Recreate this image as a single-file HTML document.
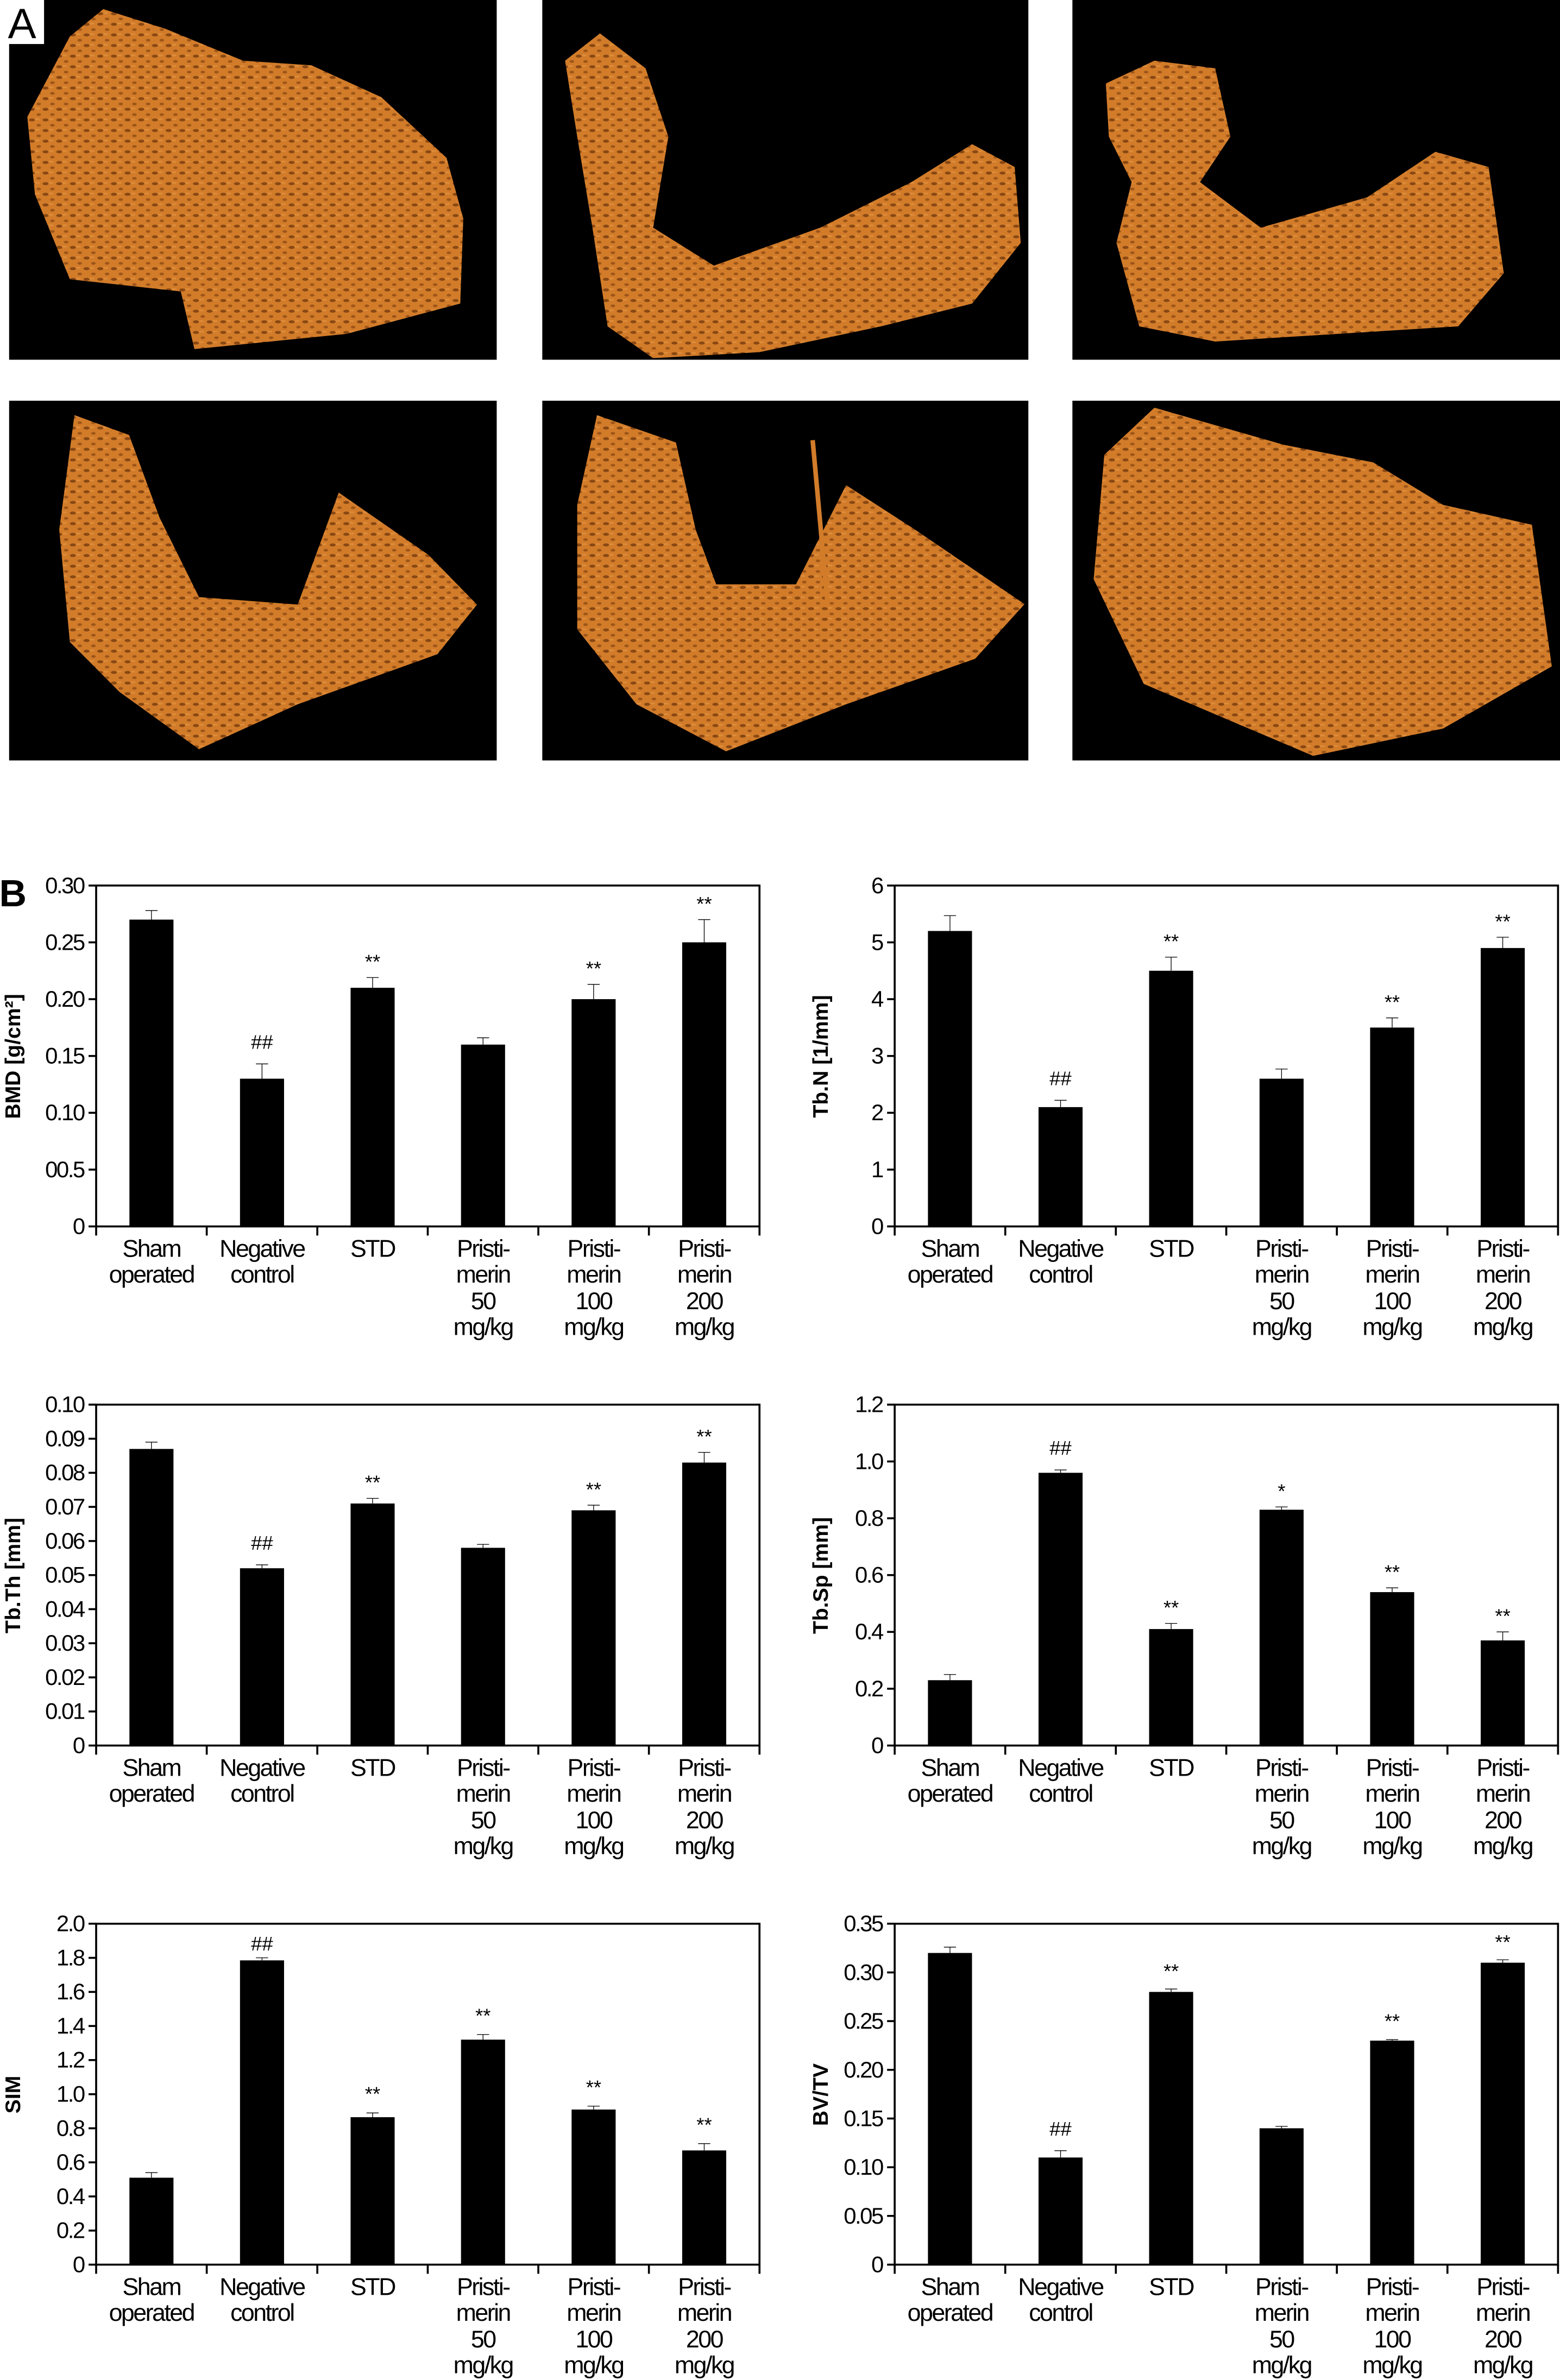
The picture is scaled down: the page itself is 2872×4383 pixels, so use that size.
<!DOCTYPE html>
<html><head><meta charset="utf-8">
<style>
html,body{margin:0;padding:0;background:#fff;}
svg{display:block;}
text{font-family:"Liberation Sans Narrow","Liberation Sans",sans-serif;fill:#000;}
.tk{font-size:15px;text-anchor:end;letter-spacing:-0.9px;}
.cl{font-size:16px;text-anchor:middle;letter-spacing:-0.9px;}
.yt{font-family:"Liberation Sans",sans-serif;font-weight:bold;font-size:14px;text-anchor:middle;}
.an{font-family:"Liberation Sans",sans-serif;font-size:13px;text-anchor:middle;}
.ln{stroke:#000;stroke-width:1.3;fill:none;}
.eb{stroke:#000;stroke-width:1.3;vector-effect:non-scaling-stroke;}
</style></head><body>
<svg width="2872" height="4383" viewBox="0 0 1027 1568" preserveAspectRatio="none" xmlns="http://www.w3.org/2000/svg">
<defs>
<pattern id="tex" width="9" height="7" patternUnits="userSpaceOnUse">
<rect width="9" height="7" fill="#d27c2a"/>
<ellipse cx="3" cy="2" rx="2" ry="1" fill="#6a3208" opacity="0.7"/>
<ellipse cx="7.5" cy="5.5" rx="1.5" ry="0.9" fill="#7a3a0c" opacity="0.6"/>
<rect x="5" y="1" width="3" height="1" fill="#e89a48" opacity="0.6"/>
</pattern>
</defs>
<rect width="1027" height="1568" fill="#fff"/>
<rect x="6" y="0" width="321" height="237" fill="#000"/>
<rect x="357" y="0" width="320" height="237" fill="#000"/>
<rect x="706" y="0" width="321" height="237" fill="#000"/>
<rect x="6" y="264" width="321" height="237" fill="#000"/>
<rect x="357" y="264" width="320" height="237" fill="#000"/>
<rect x="706" y="264" width="321" height="237" fill="#000"/>
<polygon fill="url(#tex)" points="18,77 46,24 68,6 109,19 160,40 205,43 251,64 294,104 305,144 303,200 228,220 128,230 119,192 46,184 23,128"/>
<polygon fill="url(#tex)" points="372,40 395,22 425,45 440,90 430,150 470,175 540,150 600,120 640,95 668,110 672,160 640,200 580,215 500,232 430,236 400,215 390,150 380,90"/>
<polygon fill="url(#tex)" points="728,55 760,40 800,45 810,90 790,120 830,150 900,130 945,100 980,110 990,180 960,215 880,220 800,225 750,215 735,160 745,120 730,90"/>
<polygon fill="url(#tex)" points="49,273.5 85,286.6 105,340.9 131,393.4 196,398.3 223,324.5 282,365.5 314,398.3 288,431 196,464 131,493.6 78.6,455.8 46,423 39,349"/>
<polygon fill="url(#tex)" points="393,273.5 445,291.5 458,349 471.5,385 524,385 557,319.6 602.5,349 674.5,398 642,434 557,464 478,495 419,464 380,414.6 380,332.6"/>
<line x1="535" y1="290" x2="545" y2="400" stroke="#d27c2a" stroke-width="3"/>
<polygon fill="url(#tex)" points="760,268.6 845,293 904,304.6 950,332.6 1008.5,345.7 1021.6,439 950,480 864.5,498 753,450.6 720,381.6 727,299.6"/>
<rect x="0" y="0" width="29" height="29" fill="#fff"/>
<text x="14.5" y="25" style="font-size:28px;text-anchor:middle">A</text>
<text x="8.5" y="597" style="font-family:'Liberation Sans',sans-serif;font-weight:bold;font-size:25px;text-anchor:middle">B</text>

<g transform="translate(63.3,808)">
<g transform="scale(1,-748.67)">
<rect x="21.9" y="0" width="29" height="0.27"/><rect x="94.7" y="0" width="29" height="0.13"/><rect x="167.5" y="0" width="29" height="0.21"/><rect x="240.2" y="0" width="29" height="0.16"/><rect x="313" y="0" width="29" height="0.20"/><rect x="385.8" y="0" width="29" height="0.25"/>
<line class="eb" x1="36.4" y1="0.27" x2="36.4" y2="0.278"/><line class="eb" x1="32.4" y1="0.278" x2="40.4" y2="0.278"/>
<line class="eb" x1="109.2" y1="0.13" x2="109.2" y2="0.143"/><line class="eb" x1="105.2" y1="0.143" x2="113.2" y2="0.143"/>
<line class="eb" x1="182" y1="0.21" x2="182" y2="0.219"/><line class="eb" x1="178" y1="0.219" x2="186" y2="0.219"/>
<line class="eb" x1="254.7" y1="0.16" x2="254.7" y2="0.166"/><line class="eb" x1="250.7" y1="0.166" x2="258.7" y2="0.166"/>
<line class="eb" x1="327.5" y1="0.20" x2="327.5" y2="0.213"/><line class="eb" x1="323.5" y1="0.213" x2="331.5" y2="0.213"/>
<line class="eb" x1="400.3" y1="0.25" x2="400.3" y2="0.27"/><line class="eb" x1="396.3" y1="0.27" x2="404.3" y2="0.27"/>
</g>
<rect class="ln" x="0" y="-224.6" width="436.7" height="224.6"/>
<path class="ln" d="M0,0v6M72.8,0v6M145.6,0v6M218.3,0v6M291.1,0v6M363.9,0v6M436.7,0v6M-5,0h5M-5,-37.43h5M-5,-74.87h5M-5,-112.3h5M-5,-149.73h5M-5,-187.17h5M-5,-224.6h5"/>
<text class="tk" x="-8" y="5">0</text><text class="tk" x="-8" y="-32.4">00.5</text><text class="tk" x="-8" y="-69.9">0.10</text><text class="tk" x="-8" y="-107.3">0.15</text><text class="tk" x="-8" y="-144.7">0.20</text><text class="tk" x="-8" y="-182.2">0.25</text><text class="tk" x="-8" y="-219.6">0.30</text>
<text class="an" x="109.2" y="-117">##</text><text class="an" x="182" y="-170">**</text><text class="an" x="327.5" y="-165.5">**</text><text class="an" x="400.3" y="-208">**</text>
<text class="yt" transform="translate(-50,-112) rotate(-90)">BMD [g/cm²]</text>
<text class="cl" x="36.4" y="20">Sham</text><text class="cl" x="36.4" y="37">operated</text>
<text class="cl" x="109.2" y="20">Negative</text><text class="cl" x="109.2" y="37">control</text>
<text class="cl" x="182" y="20">STD</text>
<text class="cl" x="254.7" y="20">Pristi-</text><text class="cl" x="254.7" y="37">merin</text><text class="cl" x="254.7" y="54.5">50</text><text class="cl" x="254.7" y="71.5">mg/kg</text>
<text class="cl" x="327.5" y="20">Pristi-</text><text class="cl" x="327.5" y="37">merin</text><text class="cl" x="327.5" y="54.5">100</text><text class="cl" x="327.5" y="71.5">mg/kg</text>
<text class="cl" x="400.3" y="20">Pristi-</text><text class="cl" x="400.3" y="37">merin</text><text class="cl" x="400.3" y="54.5">200</text><text class="cl" x="400.3" y="71.5">mg/kg</text>
</g>

<g transform="translate(589,808)">
<g transform="scale(1,-37.433)">
<rect x="21.9" y="0" width="29" height="5.2"/><rect x="94.7" y="0" width="29" height="2.1"/><rect x="167.5" y="0" width="29" height="4.5"/><rect x="240.2" y="0" width="29" height="2.6"/><rect x="313" y="0" width="29" height="3.5"/><rect x="385.8" y="0" width="29" height="4.9"/>
<line class="eb" x1="36.4" y1="5.2" x2="36.4" y2="5.47"/><line class="eb" x1="32.4" y1="5.47" x2="40.4" y2="5.47"/>
<line class="eb" x1="109.2" y1="2.1" x2="109.2" y2="2.22"/><line class="eb" x1="105.2" y1="2.22" x2="113.2" y2="2.22"/>
<line class="eb" x1="182" y1="4.5" x2="182" y2="4.74"/><line class="eb" x1="178" y1="4.74" x2="186" y2="4.74"/>
<line class="eb" x1="254.7" y1="2.6" x2="254.7" y2="2.77"/><line class="eb" x1="250.7" y1="2.77" x2="258.7" y2="2.77"/>
<line class="eb" x1="327.5" y1="3.5" x2="327.5" y2="3.67"/><line class="eb" x1="323.5" y1="3.67" x2="331.5" y2="3.67"/>
<line class="eb" x1="400.3" y1="4.9" x2="400.3" y2="5.09"/><line class="eb" x1="396.3" y1="5.09" x2="404.3" y2="5.09"/>
</g>
<rect class="ln" x="0" y="-224.6" width="436.7" height="224.6"/>
<path class="ln" d="M0,0v6M72.8,0v6M145.6,0v6M218.3,0v6M291.1,0v6M363.9,0v6M436.7,0v6M-5,0h5M-5,-37.43h5M-5,-74.87h5M-5,-112.3h5M-5,-149.73h5M-5,-187.17h5M-5,-224.6h5"/>
<text class="tk" x="-8" y="5">0</text><text class="tk" x="-8" y="-32.4">1</text><text class="tk" x="-8" y="-69.9">2</text><text class="tk" x="-8" y="-107.3">3</text><text class="tk" x="-8" y="-144.7">4</text><text class="tk" x="-8" y="-182.2">5</text><text class="tk" x="-8" y="-219.6">6</text>
<text class="an" x="109.2" y="-93">##</text><text class="an" x="182" y="-183.4">**</text><text class="an" x="327.5" y="-143.4">**</text><text class="an" x="400.3" y="-196.5">**</text>
<text class="yt" transform="translate(-44,-112) rotate(-90)">Tb.N [1/mm]</text>
<text class="cl" x="36.4" y="20">Sham</text><text class="cl" x="36.4" y="37">operated</text>
<text class="cl" x="109.2" y="20">Negative</text><text class="cl" x="109.2" y="37">control</text>
<text class="cl" x="182" y="20">STD</text>
<text class="cl" x="254.7" y="20">Pristi-</text><text class="cl" x="254.7" y="37">merin</text><text class="cl" x="254.7" y="54.5">50</text><text class="cl" x="254.7" y="71.5">mg/kg</text>
<text class="cl" x="327.5" y="20">Pristi-</text><text class="cl" x="327.5" y="37">merin</text><text class="cl" x="327.5" y="54.5">100</text><text class="cl" x="327.5" y="71.5">mg/kg</text>
<text class="cl" x="400.3" y="20">Pristi-</text><text class="cl" x="400.3" y="37">merin</text><text class="cl" x="400.3" y="54.5">200</text><text class="cl" x="400.3" y="71.5">mg/kg</text>
</g>

<g transform="translate(63.3,1150)">
<g transform="scale(1,-2246)">
<rect x="21.9" y="0" width="29" height="0.087"/><rect x="94.7" y="0" width="29" height="0.052"/><rect x="167.5" y="0" width="29" height="0.071"/><rect x="240.2" y="0" width="29" height="0.058"/><rect x="313" y="0" width="29" height="0.069"/><rect x="385.8" y="0" width="29" height="0.083"/>
<line class="eb" x1="36.4" y1="0.087" x2="36.4" y2="0.089"/><line class="eb" x1="32.4" y1="0.089" x2="40.4" y2="0.089"/>
<line class="eb" x1="109.2" y1="0.052" x2="109.2" y2="0.053"/><line class="eb" x1="105.2" y1="0.053" x2="113.2" y2="0.053"/>
<line class="eb" x1="182" y1="0.071" x2="182" y2="0.0725"/><line class="eb" x1="178" y1="0.0725" x2="186" y2="0.0725"/>
<line class="eb" x1="254.7" y1="0.058" x2="254.7" y2="0.059"/><line class="eb" x1="250.7" y1="0.059" x2="258.7" y2="0.059"/>
<line class="eb" x1="327.5" y1="0.069" x2="327.5" y2="0.0705"/><line class="eb" x1="323.5" y1="0.0705" x2="331.5" y2="0.0705"/>
<line class="eb" x1="400.3" y1="0.083" x2="400.3" y2="0.086"/><line class="eb" x1="396.3" y1="0.086" x2="404.3" y2="0.086"/>
</g>
<rect class="ln" x="0" y="-224.6" width="436.7" height="224.6"/>
<path class="ln" d="M0,0v6M72.8,0v6M145.6,0v6M218.3,0v6M291.1,0v6M363.9,0v6M436.7,0v6M-5,0h5M-5,-22.46h5M-5,-44.92h5M-5,-67.38h5M-5,-89.84h5M-5,-112.3h5M-5,-134.76h5M-5,-157.22h5M-5,-179.68h5M-5,-202.14h5M-5,-224.6h5"/>
<text class="tk" x="-8" y="5">0</text><text class="tk" x="-8" y="-17.5">0.01</text><text class="tk" x="-8" y="-39.9">0.02</text><text class="tk" x="-8" y="-62.4">0.03</text><text class="tk" x="-8" y="-84.8">0.04</text><text class="tk" x="-8" y="-107.3">0.05</text><text class="tk" x="-8" y="-129.8">0.06</text><text class="tk" x="-8" y="-152.2">0.07</text><text class="tk" x="-8" y="-174.7">0.08</text><text class="tk" x="-8" y="-197.1">0.09</text><text class="tk" x="-8" y="-219.6">0.10</text>
<text class="an" x="109.2" y="-129">##</text><text class="an" x="182" y="-168.8">**</text><text class="an" x="327.5" y="-164.3">**</text><text class="an" x="400.3" y="-199.2">**</text>
<text class="yt" transform="translate(-50,-112) rotate(-90)">Tb.Th [mm]</text>
<text class="cl" x="36.4" y="20">Sham</text><text class="cl" x="36.4" y="37">operated</text>
<text class="cl" x="109.2" y="20">Negative</text><text class="cl" x="109.2" y="37">control</text>
<text class="cl" x="182" y="20">STD</text>
<text class="cl" x="254.7" y="20">Pristi-</text><text class="cl" x="254.7" y="37">merin</text><text class="cl" x="254.7" y="54.5">50</text><text class="cl" x="254.7" y="71.5">mg/kg</text>
<text class="cl" x="327.5" y="20">Pristi-</text><text class="cl" x="327.5" y="37">merin</text><text class="cl" x="327.5" y="54.5">100</text><text class="cl" x="327.5" y="71.5">mg/kg</text>
<text class="cl" x="400.3" y="20">Pristi-</text><text class="cl" x="400.3" y="37">merin</text><text class="cl" x="400.3" y="54.5">200</text><text class="cl" x="400.3" y="71.5">mg/kg</text>
</g>

<g transform="translate(589,1150)">
<g transform="scale(1,-187.17)">
<rect x="21.9" y="0" width="29" height="0.23"/><rect x="94.7" y="0" width="29" height="0.96"/><rect x="167.5" y="0" width="29" height="0.41"/><rect x="240.2" y="0" width="29" height="0.83"/><rect x="313" y="0" width="29" height="0.54"/><rect x="385.8" y="0" width="29" height="0.37"/>
<line class="eb" x1="36.4" y1="0.23" x2="36.4" y2="0.25"/><line class="eb" x1="32.4" y1="0.25" x2="40.4" y2="0.25"/>
<line class="eb" x1="109.2" y1="0.96" x2="109.2" y2="0.97"/><line class="eb" x1="105.2" y1="0.97" x2="113.2" y2="0.97"/>
<line class="eb" x1="182" y1="0.41" x2="182" y2="0.43"/><line class="eb" x1="178" y1="0.43" x2="186" y2="0.43"/>
<line class="eb" x1="254.7" y1="0.83" x2="254.7" y2="0.84"/><line class="eb" x1="250.7" y1="0.84" x2="258.7" y2="0.84"/>
<line class="eb" x1="327.5" y1="0.54" x2="327.5" y2="0.555"/><line class="eb" x1="323.5" y1="0.555" x2="331.5" y2="0.555"/>
<line class="eb" x1="400.3" y1="0.37" x2="400.3" y2="0.40"/><line class="eb" x1="396.3" y1="0.40" x2="404.3" y2="0.40"/>
</g>
<rect class="ln" x="0" y="-224.6" width="436.7" height="224.6"/>
<path class="ln" d="M0,0v6M72.8,0v6M145.6,0v6M218.3,0v6M291.1,0v6M363.9,0v6M436.7,0v6M-5,0h5M-5,-37.43h5M-5,-74.87h5M-5,-112.3h5M-5,-149.73h5M-5,-187.17h5M-5,-224.6h5"/>
<text class="tk" x="-8" y="5">0</text><text class="tk" x="-8" y="-32.4">0.2</text><text class="tk" x="-8" y="-69.9">0.4</text><text class="tk" x="-8" y="-107.3">0.6</text><text class="tk" x="-8" y="-144.7">0.8</text><text class="tk" x="-8" y="-182.2">1.0</text><text class="tk" x="-8" y="-219.6">1.2</text>
<text class="an" x="109.2" y="-191.6">##</text><text class="an" x="182" y="-86.5">**</text><text class="an" x="254.7" y="-163.2">*</text><text class="an" x="327.5" y="-109.9">**</text><text class="an" x="400.3" y="-80.9">**</text>
<text class="yt" transform="translate(-44,-112) rotate(-90)">Tb.Sp [mm]</text>
<text class="cl" x="36.4" y="20">Sham</text><text class="cl" x="36.4" y="37">operated</text>
<text class="cl" x="109.2" y="20">Negative</text><text class="cl" x="109.2" y="37">control</text>
<text class="cl" x="182" y="20">STD</text>
<text class="cl" x="254.7" y="20">Pristi-</text><text class="cl" x="254.7" y="37">merin</text><text class="cl" x="254.7" y="54.5">50</text><text class="cl" x="254.7" y="71.5">mg/kg</text>
<text class="cl" x="327.5" y="20">Pristi-</text><text class="cl" x="327.5" y="37">merin</text><text class="cl" x="327.5" y="54.5">100</text><text class="cl" x="327.5" y="71.5">mg/kg</text>
<text class="cl" x="400.3" y="20">Pristi-</text><text class="cl" x="400.3" y="37">merin</text><text class="cl" x="400.3" y="54.5">200</text><text class="cl" x="400.3" y="71.5">mg/kg</text>
</g>

<g transform="translate(63.3,1492)">
<g transform="scale(1,-112.3)">
<rect x="21.9" y="0" width="29" height="0.51"/><rect x="94.7" y="0" width="29" height="1.785"/><rect x="167.5" y="0" width="29" height="0.865"/><rect x="240.2" y="0" width="29" height="1.32"/><rect x="313" y="0" width="29" height="0.91"/><rect x="385.8" y="0" width="29" height="0.67"/>
<line class="eb" x1="36.4" y1="0.51" x2="36.4" y2="0.54"/><line class="eb" x1="32.4" y1="0.54" x2="40.4" y2="0.54"/>
<line class="eb" x1="109.2" y1="1.785" x2="109.2" y2="1.80"/><line class="eb" x1="105.2" y1="1.80" x2="113.2" y2="1.80"/>
<line class="eb" x1="182" y1="0.865" x2="182" y2="0.89"/><line class="eb" x1="178" y1="0.89" x2="186" y2="0.89"/>
<line class="eb" x1="254.7" y1="1.32" x2="254.7" y2="1.35"/><line class="eb" x1="250.7" y1="1.35" x2="258.7" y2="1.35"/>
<line class="eb" x1="327.5" y1="0.91" x2="327.5" y2="0.93"/><line class="eb" x1="323.5" y1="0.93" x2="331.5" y2="0.93"/>
<line class="eb" x1="400.3" y1="0.67" x2="400.3" y2="0.71"/><line class="eb" x1="396.3" y1="0.71" x2="404.3" y2="0.71"/>
</g>
<rect class="ln" x="0" y="-224.6" width="436.7" height="224.6"/>
<path class="ln" d="M0,0v6M72.8,0v6M145.6,0v6M218.3,0v6M291.1,0v6M363.9,0v6M436.7,0v6M-5,0h5M-5,-22.46h5M-5,-44.92h5M-5,-67.38h5M-5,-89.84h5M-5,-112.3h5M-5,-134.76h5M-5,-157.22h5M-5,-179.68h5M-5,-202.14h5M-5,-224.6h5"/>
<text class="tk" x="-8" y="5">0</text><text class="tk" x="-8" y="-17.5">0.2</text><text class="tk" x="-8" y="-39.9">0.4</text><text class="tk" x="-8" y="-62.4">0.6</text><text class="tk" x="-8" y="-84.8">0.8</text><text class="tk" x="-8" y="-107.3">1.0</text><text class="tk" x="-8" y="-129.8">1.2</text><text class="tk" x="-8" y="-152.2">1.4</text><text class="tk" x="-8" y="-174.7">1.6</text><text class="tk" x="-8" y="-197.1">1.8</text><text class="tk" x="-8" y="-219.6">2.0</text>
<text class="an" x="109.2" y="-207">##</text><text class="an" x="182" y="-108">**</text><text class="an" x="254.7" y="-159.6">**</text><text class="an" x="327.5" y="-112.4">**</text><text class="an" x="400.3" y="-87.7">**</text>
<text class="yt" transform="translate(-50,-112) rotate(-90)">SIM</text>
<text class="cl" x="36.4" y="20">Sham</text><text class="cl" x="36.4" y="37">operated</text>
<text class="cl" x="109.2" y="20">Negative</text><text class="cl" x="109.2" y="37">control</text>
<text class="cl" x="182" y="20">STD</text>
<text class="cl" x="254.7" y="20">Pristi-</text><text class="cl" x="254.7" y="37">merin</text><text class="cl" x="254.7" y="54.5">50</text><text class="cl" x="254.7" y="71.5">mg/kg</text>
<text class="cl" x="327.5" y="20">Pristi-</text><text class="cl" x="327.5" y="37">merin</text><text class="cl" x="327.5" y="54.5">100</text><text class="cl" x="327.5" y="71.5">mg/kg</text>
<text class="cl" x="400.3" y="20">Pristi-</text><text class="cl" x="400.3" y="37">merin</text><text class="cl" x="400.3" y="54.5">200</text><text class="cl" x="400.3" y="71.5">mg/kg</text>
</g>

<g transform="translate(589,1492)">
<g transform="scale(1,-641.7)">
<rect x="21.9" y="0" width="29" height="0.32"/><rect x="94.7" y="0" width="29" height="0.11"/><rect x="167.5" y="0" width="29" height="0.28"/><rect x="240.2" y="0" width="29" height="0.14"/><rect x="313" y="0" width="29" height="0.23"/><rect x="385.8" y="0" width="29" height="0.31"/>
<line class="eb" x1="36.4" y1="0.32" x2="36.4" y2="0.326"/><line class="eb" x1="32.4" y1="0.326" x2="40.4" y2="0.326"/>
<line class="eb" x1="109.2" y1="0.11" x2="109.2" y2="0.117"/><line class="eb" x1="105.2" y1="0.117" x2="113.2" y2="0.117"/>
<line class="eb" x1="182" y1="0.28" x2="182" y2="0.283"/><line class="eb" x1="178" y1="0.283" x2="186" y2="0.283"/>
<line class="eb" x1="254.7" y1="0.14" x2="254.7" y2="0.142"/><line class="eb" x1="250.7" y1="0.142" x2="258.7" y2="0.142"/>
<line class="eb" x1="327.5" y1="0.23" x2="327.5" y2="0.231"/><line class="eb" x1="323.5" y1="0.231" x2="331.5" y2="0.231"/>
<line class="eb" x1="400.3" y1="0.31" x2="400.3" y2="0.313"/><line class="eb" x1="396.3" y1="0.313" x2="404.3" y2="0.313"/>
</g>
<rect class="ln" x="0" y="-224.6" width="436.7" height="224.6"/>
<path class="ln" d="M0,0v6M72.8,0v6M145.6,0v6M218.3,0v6M291.1,0v6M363.9,0v6M436.7,0v6M-5,0h5M-5,-32.09h5M-5,-64.17h5M-5,-96.26h5M-5,-128.34h5M-5,-160.43h5M-5,-192.51h5M-5,-224.6h5"/>
<text class="tk" x="-8" y="5">0</text><text class="tk" x="-8" y="-27.1">0.05</text><text class="tk" x="-8" y="-59.2">0.10</text><text class="tk" x="-8" y="-91.3">0.15</text><text class="tk" x="-8" y="-123.3">0.20</text><text class="tk" x="-8" y="-155.4">0.25</text><text class="tk" x="-8" y="-187.5">0.30</text><text class="tk" x="-8" y="-219.6">0.35</text>
<text class="an" x="109.2" y="-85">##</text><text class="an" x="182" y="-189">**</text><text class="an" x="327.5" y="-156">**</text><text class="an" x="400.3" y="-208">**</text>
<text class="yt" transform="translate(-44,-112) rotate(-90)">BV/TV</text>
<text class="cl" x="36.4" y="20">Sham</text><text class="cl" x="36.4" y="37">operated</text>
<text class="cl" x="109.2" y="20">Negative</text><text class="cl" x="109.2" y="37">control</text>
<text class="cl" x="182" y="20">STD</text>
<text class="cl" x="254.7" y="20">Pristi-</text><text class="cl" x="254.7" y="37">merin</text><text class="cl" x="254.7" y="54.5">50</text><text class="cl" x="254.7" y="71.5">mg/kg</text>
<text class="cl" x="327.5" y="20">Pristi-</text><text class="cl" x="327.5" y="37">merin</text><text class="cl" x="327.5" y="54.5">100</text><text class="cl" x="327.5" y="71.5">mg/kg</text>
<text class="cl" x="400.3" y="20">Pristi-</text><text class="cl" x="400.3" y="37">merin</text><text class="cl" x="400.3" y="54.5">200</text><text class="cl" x="400.3" y="71.5">mg/kg</text>
</g>
</svg>
</body></html>
